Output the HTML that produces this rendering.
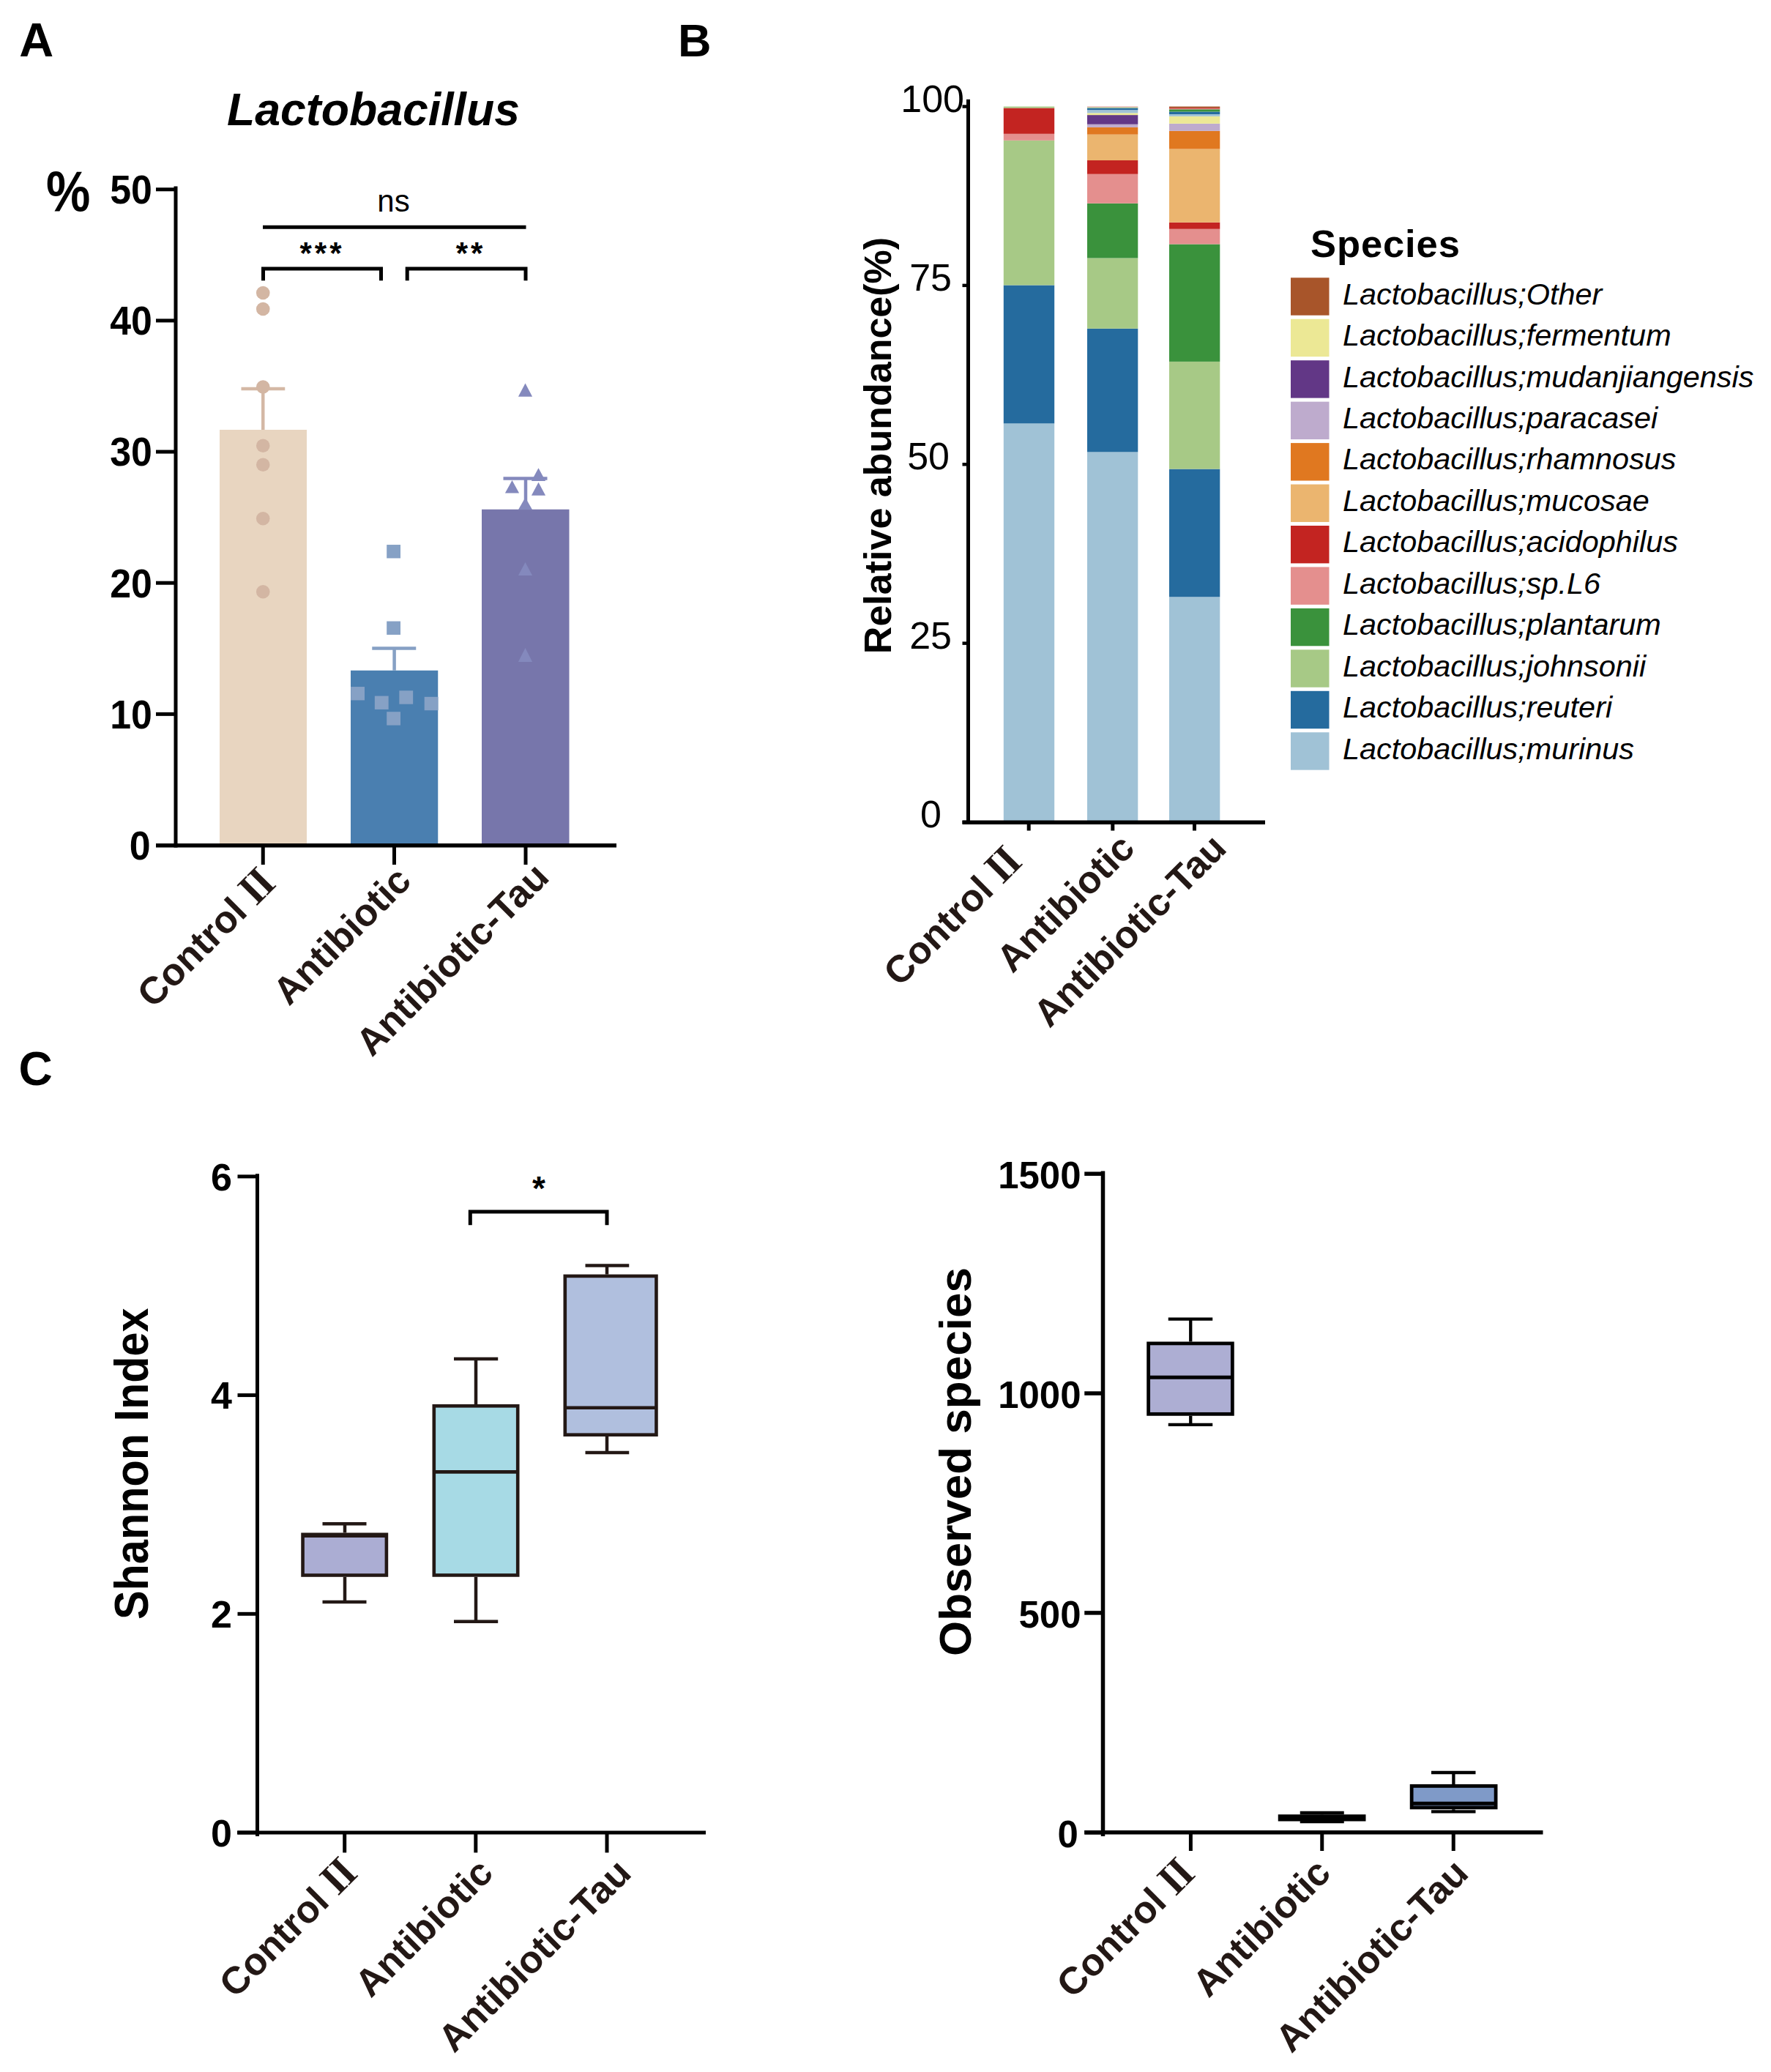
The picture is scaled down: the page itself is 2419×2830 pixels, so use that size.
<!DOCTYPE html>
<html><head><meta charset="utf-8"><title>Lactobacillus figure</title>
<style>html,body{margin:0;padding:0;background:#fff;} svg{display:block;}</style>
</head><body>
<svg width="2419" height="2830" viewBox="0 0 2419 2830" font-family='"Liberation Sans", Arial, sans-serif'>
<rect x="0" y="0" width="2419" height="2830" fill="#fff"/>
<text x="26.3" y="76.8" font-size="65" font-weight="bold" font-style="normal" text-anchor="start" fill="#000" >A</text>
<text x="926" y="77" font-size="63" font-weight="bold" font-style="normal" text-anchor="start" fill="#000" >B</text>
<text x="25.5" y="1481.5" font-size="64" font-weight="bold" font-style="normal" text-anchor="start" fill="#000" >C</text>
<text x="510" y="170.75" font-size="62.6" font-weight="bold" font-style="italic" text-anchor="middle" fill="#000" >Lactobacillus</text>
<text transform="translate(93.2,288.4) scale(0.87,1)" font-size="78" font-weight="bold" text-anchor="middle">%</text>
<rect x="300" y="587" width="119" height="567.5" fill="#e8d5c0"/>
<rect x="479" y="915.75" width="119.25" height="238.75" fill="#4a7fb0"/>
<rect x="658" y="695.75" width="119.5" height="458.75" fill="#7776ab"/>
<line x1="359.25" y1="587" x2="359.25" y2="531" stroke="#d4b8a5" stroke-width="4.5" stroke-linecap="butt"/>
<line x1="329.5" y1="531" x2="389.25" y2="531" stroke="#d4b8a5" stroke-width="4.5" stroke-linecap="butt"/>
<line x1="538.6" y1="915.75" x2="538.6" y2="885.6" stroke="#86a0c4" stroke-width="4.5" stroke-linecap="butt"/>
<line x1="508.25" y1="885.6" x2="568.25" y2="885.6" stroke="#86a0c4" stroke-width="4.5" stroke-linecap="butt"/>
<line x1="718" y1="695.75" x2="718" y2="653.5" stroke="#8489bd" stroke-width="4.5" stroke-linecap="butt"/>
<line x1="687.5" y1="653.5" x2="747.5" y2="653.5" stroke="#8489bd" stroke-width="4.5" stroke-linecap="butt"/>
<circle cx="359.25" cy="400" r="9.3" fill="#d3b6a3"/>
<circle cx="359.25" cy="422" r="9.3" fill="#d3b6a3"/>
<circle cx="359.25" cy="528.5" r="9.3" fill="#d3b6a3"/>
<circle cx="359.25" cy="608.75" r="9.3" fill="#d3b6a3"/>
<circle cx="359.25" cy="634.75" r="9.3" fill="#d3b6a3"/>
<circle cx="359.25" cy="708.25" r="9.3" fill="#d3b6a3"/>
<circle cx="359.25" cy="808.25" r="9.3" fill="#d3b6a3"/>
<rect x="528.2" y="744.05" width="18.8" height="18.4" fill="#86a1c5"/>
<rect x="528.2" y="848.55" width="18.8" height="18.4" fill="#86a1c5"/>
<rect x="479.20000000000005" y="938.05" width="18.8" height="18.4" fill="#86a1c5"/>
<rect x="511.85" y="950.55" width="18.8" height="18.4" fill="#86a1c5"/>
<rect x="545.35" y="943.3" width="18.8" height="18.4" fill="#86a1c5"/>
<rect x="579.7" y="951.8" width="18.8" height="18.4" fill="#86a1c5"/>
<rect x="528.2" y="972.1999999999999" width="18.8" height="18.4" fill="#86a1c5"/>
<polygon points="717.5,523.5 727.1,541.75 707.9,541.75" fill="#8489bd"/>
<polygon points="735.5,639.25 745.1,657 725.9,657" fill="#8489bd"/>
<polygon points="699.5,656 709.1,673.5 689.9,673.5" fill="#8489bd"/>
<polygon points="735.5,658.75 745.1,676.75 725.9,676.75" fill="#8489bd"/>
<polygon points="717.5,679.5 727.1,696.25 707.9,696.25" fill="#8489bd"/>
<polygon points="717.5,768 727.1,786.1 707.9,786.1" fill="#8489bd"/>
<polygon points="717.5,885 727.1,903.9 707.9,903.9" fill="#8489bd"/>
<line x1="240" y1="254.5" x2="240" y2="1157.5" stroke="#000" stroke-width="5" stroke-linecap="butt"/>
<line x1="213" y1="1154.5" x2="240" y2="1154.5" stroke="#000" stroke-width="5" stroke-linecap="butt"/>
<text transform="translate(205.6,1173.8) scale(0.96,1.02)" font-size="54" font-weight="bold" text-anchor="end">0</text>
<line x1="213" y1="975.35" x2="240" y2="975.35" stroke="#000" stroke-width="5" stroke-linecap="butt"/>
<text transform="translate(207.9,994.65) scale(0.96,1.02)" font-size="54" font-weight="bold" text-anchor="end">10</text>
<line x1="213" y1="796.2" x2="240" y2="796.2" stroke="#000" stroke-width="5" stroke-linecap="butt"/>
<text transform="translate(207.9,815.5) scale(0.96,1.02)" font-size="54" font-weight="bold" text-anchor="end">20</text>
<line x1="213" y1="617.0500000000001" x2="240" y2="617.0500000000001" stroke="#000" stroke-width="5" stroke-linecap="butt"/>
<text transform="translate(207.9,636.35) scale(0.96,1.02)" font-size="54" font-weight="bold" text-anchor="end">30</text>
<line x1="213" y1="437.9000000000001" x2="240" y2="437.9000000000001" stroke="#000" stroke-width="5" stroke-linecap="butt"/>
<text transform="translate(207.9,457.2000000000001) scale(0.96,1.02)" font-size="54" font-weight="bold" text-anchor="end">40</text>
<line x1="213" y1="258.75" x2="240" y2="258.75" stroke="#000" stroke-width="5" stroke-linecap="butt"/>
<text transform="translate(207.9,278.05) scale(0.96,1.02)" font-size="54" font-weight="bold" text-anchor="end">50</text>
<line x1="213" y1="1154.8" x2="842" y2="1154.8" stroke="#000" stroke-width="5.5" stroke-linecap="butt"/>
<line x1="359.25" y1="1154.8" x2="359.25" y2="1181" stroke="#000" stroke-width="5" stroke-linecap="butt"/>
<line x1="538.5" y1="1154.8" x2="538.5" y2="1181" stroke="#000" stroke-width="5" stroke-linecap="butt"/>
<line x1="718" y1="1154.8" x2="718" y2="1181" stroke="#000" stroke-width="5" stroke-linecap="butt"/>
<line x1="359" y1="310.3" x2="718.5" y2="310.3" stroke="#000" stroke-width="5" stroke-linecap="butt"/>
<path d="M359.5,383.3 V367 H520.5 V383.3" fill="none" stroke="#000" stroke-width="5"/>
<path d="M556.2,383.3 V367 H718 V383.3" fill="none" stroke="#000" stroke-width="5"/>
<text x="537.5" y="289" font-size="42" font-weight="normal" font-style="normal" text-anchor="middle" fill="#000" >ns</text>
<text x="440" y="359.5" font-size="42" font-weight="bold" font-style="normal" text-anchor="middle" fill="#000" letter-spacing="4">***</text>
<text x="643" y="359.5" font-size="42" font-weight="bold" font-style="normal" text-anchor="middle" fill="#000" letter-spacing="4">**</text>
<text transform="translate(382.7,1205.3) rotate(-45)" x="0" y="0" font-size="52" font-weight="bold" text-anchor="end" fill="#231815">Control <tspan font-family="&quot;Liberation Serif&quot;, &quot;Noto Serif CJK SC&quot;, serif" font-weight="900" dx="-6">Ⅱ</tspan></text>
<text transform="translate(564.2,1205.8) rotate(-45)" x="0" y="0" font-size="52" font-weight="bold" text-anchor="end" fill="#231815">Antibiotic</text>
<text transform="translate(752.4,1200.6) rotate(-45)" x="0" y="0" font-size="52" font-weight="bold" text-anchor="end" fill="#231815">Antibiotic-Tau</text>
<line x1="1322.5" y1="135.75" x2="1322.5" y2="1126" stroke="#000" stroke-width="5" stroke-linecap="butt"/>
<line x1="1314.5" y1="1123.0" x2="1322.5" y2="1123.0" stroke="#000" stroke-width="4.5" stroke-linecap="butt"/>
<text x="1286" y="1130.0" font-size="52" font-weight="normal" font-style="normal" text-anchor="end" fill="#000" >0</text>
<line x1="1314.5" y1="878.625" x2="1322.5" y2="878.625" stroke="#000" stroke-width="4.5" stroke-linecap="butt"/>
<text x="1300" y="885.625" font-size="52" font-weight="normal" font-style="normal" text-anchor="end" fill="#000" >25</text>
<line x1="1314.5" y1="634.25" x2="1322.5" y2="634.25" stroke="#000" stroke-width="4.5" stroke-linecap="butt"/>
<text x="1297" y="641.25" font-size="52" font-weight="normal" font-style="normal" text-anchor="end" fill="#000" >50</text>
<line x1="1314.5" y1="389.875" x2="1322.5" y2="389.875" stroke="#000" stroke-width="4.5" stroke-linecap="butt"/>
<text x="1300" y="396.875" font-size="52" font-weight="normal" font-style="normal" text-anchor="end" fill="#000" >75</text>
<line x1="1314.5" y1="145.5" x2="1322.5" y2="145.5" stroke="#000" stroke-width="4.5" stroke-linecap="butt"/>
<text x="1317" y="152.5" font-size="52" font-weight="normal" font-style="normal" text-anchor="end" fill="#000" >100</text>
<text transform="translate(1217.3,608.5) rotate(-90)" font-size="52" font-weight="bold" text-anchor="middle" fill="#000">Relative abundance(%)</text>
<rect x="1370.8" y="578.4" width="69.40000000000009" height="544.6" fill="#a0c2d6"/>
<rect x="1370.8" y="389.5" width="69.40000000000009" height="188.89999999999998" fill="#256b9e"/>
<rect x="1370.8" y="191.8" width="69.40000000000009" height="197.7" fill="#a7c986"/>
<rect x="1370.8" y="182.8" width="69.40000000000009" height="9.0" fill="#e48f8e"/>
<rect x="1370.8" y="147.5" width="69.40000000000009" height="35.30000000000001" fill="#c32421"/>
<rect x="1370.8" y="145.5" width="69.40000000000009" height="2.0" fill="#a7c986"/>
<rect x="1485" y="617.4" width="69.29999999999995" height="505.6" fill="#a0c2d6"/>
<rect x="1485" y="448.8" width="69.29999999999995" height="168.59999999999997" fill="#256b9e"/>
<rect x="1485" y="352.5" width="69.29999999999995" height="96.30000000000001" fill="#a7c986"/>
<rect x="1485" y="277.75" width="69.29999999999995" height="74.75" fill="#3a923c"/>
<rect x="1485" y="237.75" width="69.29999999999995" height="40.0" fill="#e48f8e"/>
<rect x="1485" y="219" width="69.29999999999995" height="18.75" fill="#c32421"/>
<rect x="1485" y="183.7" width="69.29999999999995" height="35.30000000000001" fill="#ebb56f"/>
<rect x="1485" y="173.9" width="69.29999999999995" height="9.799999999999983" fill="#e07820"/>
<rect x="1485" y="169.75" width="69.29999999999995" height="4.150000000000006" fill="#beabcd"/>
<rect x="1485" y="157.1" width="69.29999999999995" height="12.650000000000006" fill="#623786"/>
<rect x="1485" y="154.4" width="69.29999999999995" height="2.6999999999999886" fill="#ece895"/>
<rect x="1485" y="150.2" width="69.29999999999995" height="4.200000000000017" fill="#a0c2d6"/>
<rect x="1485" y="147.5" width="69.29999999999995" height="2.6999999999999886" fill="#256b9e"/>
<rect x="1485" y="146.3" width="69.29999999999995" height="1.1999999999999886" fill="#a7c986"/>
<rect x="1485" y="145.5" width="69.29999999999995" height="0.8000000000000114" fill="#e48f8e"/>
<rect x="1597" y="815.3" width="69.29999999999995" height="307.70000000000005" fill="#a0c2d6"/>
<rect x="1597" y="640.6" width="69.29999999999995" height="174.69999999999993" fill="#256b9e"/>
<rect x="1597" y="493.9" width="69.29999999999995" height="146.70000000000005" fill="#a7c986"/>
<rect x="1597" y="333.5" width="69.29999999999995" height="160.39999999999998" fill="#3a923c"/>
<rect x="1597" y="312.75" width="69.29999999999995" height="20.75" fill="#e48f8e"/>
<rect x="1597" y="303.75" width="69.29999999999995" height="9.0" fill="#c32421"/>
<rect x="1597" y="203.5" width="69.29999999999995" height="100.25" fill="#ebb56f"/>
<rect x="1597" y="178.8" width="69.29999999999995" height="24.69999999999999" fill="#e07820"/>
<rect x="1597" y="168.85" width="69.29999999999995" height="9.950000000000017" fill="#beabcd"/>
<rect x="1597" y="158.9" width="69.29999999999995" height="9.949999999999989" fill="#ece895"/>
<rect x="1597" y="156" width="69.29999999999995" height="2.9000000000000057" fill="#a0c2d6"/>
<rect x="1597" y="152.5" width="69.29999999999995" height="3.5" fill="#256b9e"/>
<rect x="1597" y="149.3" width="69.29999999999995" height="3.1999999999999886" fill="#3a923c"/>
<rect x="1597" y="148.5" width="69.29999999999995" height="0.8000000000000114" fill="#e48f8e"/>
<rect x="1597" y="147.2" width="69.29999999999995" height="1.3000000000000114" fill="#c32421"/>
<rect x="1597" y="145.5" width="69.29999999999995" height="1.6999999999999886" fill="#a8552a"/>
<line x1="1314.5" y1="1123.3" x2="1728" y2="1123.3" stroke="#000" stroke-width="5.5" stroke-linecap="butt"/>
<line x1="1405.2" y1="1123" x2="1405.2" y2="1134.5" stroke="#000" stroke-width="5" stroke-linecap="butt"/>
<line x1="1519.8" y1="1123" x2="1519.8" y2="1134.5" stroke="#000" stroke-width="5" stroke-linecap="butt"/>
<line x1="1631.5" y1="1123" x2="1631.5" y2="1134.5" stroke="#000" stroke-width="5" stroke-linecap="butt"/>
<text x="1790" y="351.3" font-size="52.5" font-weight="bold" font-style="normal" text-anchor="start" fill="#000" letter-spacing="0.9">Species</text>
<rect x="1763" y="379.3" width="52.5" height="51.4" fill="#a8552a"/>
<text x="1834" y="415.6" font-size="41.4" font-weight="normal" font-style="italic" text-anchor="start" fill="#000" >Lactobacillus;Other</text>
<rect x="1763" y="435.75" width="52.5" height="51.4" fill="#ece895"/>
<text x="1834" y="472.05" font-size="41.4" font-weight="normal" font-style="italic" text-anchor="start" fill="#000" >Lactobacillus;fermentum</text>
<rect x="1763" y="492.20000000000005" width="52.5" height="51.4" fill="#623786"/>
<text x="1834" y="528.5" font-size="41.4" font-weight="normal" font-style="italic" text-anchor="start" fill="#000" >Lactobacillus;mudanjiangensis</text>
<rect x="1763" y="548.6500000000001" width="52.5" height="51.4" fill="#beabcd"/>
<text x="1834" y="584.95" font-size="41.4" font-weight="normal" font-style="italic" text-anchor="start" fill="#000" >Lactobacillus;paracasei</text>
<rect x="1763" y="605.1" width="52.5" height="51.4" fill="#e07820"/>
<text x="1834" y="641.4" font-size="41.4" font-weight="normal" font-style="italic" text-anchor="start" fill="#000" >Lactobacillus;rhamnosus</text>
<rect x="1763" y="661.55" width="52.5" height="51.4" fill="#ebb56f"/>
<text x="1834" y="697.8499999999999" font-size="41.4" font-weight="normal" font-style="italic" text-anchor="start" fill="#000" >Lactobacillus;mucosae</text>
<rect x="1763" y="718.0" width="52.5" height="51.4" fill="#c32421"/>
<text x="1834" y="754.3" font-size="41.4" font-weight="normal" font-style="italic" text-anchor="start" fill="#000" >Lactobacillus;acidophilus</text>
<rect x="1763" y="774.45" width="52.5" height="51.4" fill="#e48f8e"/>
<text x="1834" y="810.75" font-size="41.4" font-weight="normal" font-style="italic" text-anchor="start" fill="#000" >Lactobacillus;sp.L6</text>
<rect x="1763" y="830.9000000000001" width="52.5" height="51.4" fill="#3a923c"/>
<text x="1834" y="867.2" font-size="41.4" font-weight="normal" font-style="italic" text-anchor="start" fill="#000" >Lactobacillus;plantarum</text>
<rect x="1763" y="887.35" width="52.5" height="51.4" fill="#a7c986"/>
<text x="1834" y="923.65" font-size="41.4" font-weight="normal" font-style="italic" text-anchor="start" fill="#000" >Lactobacillus;johnsonii</text>
<rect x="1763" y="943.8" width="52.5" height="51.4" fill="#256b9e"/>
<text x="1834" y="980.0999999999999" font-size="41.4" font-weight="normal" font-style="italic" text-anchor="start" fill="#000" >Lactobacillus;reuteri</text>
<rect x="1763" y="1000.25" width="52.5" height="51.4" fill="#a0c2d6"/>
<text x="1834" y="1036.55" font-size="41.4" font-weight="normal" font-style="italic" text-anchor="start" fill="#000" >Lactobacillus;murinus</text>
<text transform="translate(1402.2,1175.8) rotate(-45)" x="0" y="0" font-size="52" font-weight="bold" text-anchor="end" fill="#231815">Control <tspan font-family="&quot;Liberation Serif&quot;, &quot;Noto Serif CJK SC&quot;, serif" font-weight="900" dx="-6">Ⅱ</tspan></text>
<text transform="translate(1552.5,1161.2) rotate(-45)" x="0" y="0" font-size="52" font-weight="bold" text-anchor="end" fill="#231815">Antibiotic</text>
<text transform="translate(1677.8,1161.2) rotate(-45)" x="0" y="0" font-size="52" font-weight="bold" text-anchor="end" fill="#231815">Antibiotic-Tau</text>
<line x1="351.5" y1="1603.3" x2="351.5" y2="2508" stroke="#000" stroke-width="5" stroke-linecap="butt"/>
<line x1="324.5" y1="2503.0" x2="351.5" y2="2503.0" stroke="#000" stroke-width="5" stroke-linecap="butt"/>
<text x="317" y="2521.7" font-size="52" font-weight="bold" font-style="normal" text-anchor="end" fill="#000" >0</text>
<line x1="324.5" y1="2204.3" x2="351.5" y2="2204.3" stroke="#000" stroke-width="5" stroke-linecap="butt"/>
<text x="317" y="2223.0" font-size="52" font-weight="bold" font-style="normal" text-anchor="end" fill="#000" >2</text>
<line x1="324.5" y1="1905.6" x2="351.5" y2="1905.6" stroke="#000" stroke-width="5" stroke-linecap="butt"/>
<text x="317" y="1924.3" font-size="52" font-weight="bold" font-style="normal" text-anchor="end" fill="#000" >4</text>
<line x1="324.5" y1="1606.9" x2="351.5" y2="1606.9" stroke="#000" stroke-width="5" stroke-linecap="butt"/>
<text x="317" y="1625.6000000000001" font-size="52" font-weight="bold" font-style="normal" text-anchor="end" fill="#000" >6</text>
<line x1="324" y1="2503" x2="964" y2="2503" stroke="#000" stroke-width="5" stroke-linecap="butt"/>
<line x1="470.7" y1="2503" x2="470.7" y2="2530.4" stroke="#000" stroke-width="5" stroke-linecap="butt"/>
<line x1="649.8" y1="2503" x2="649.8" y2="2530.4" stroke="#000" stroke-width="5" stroke-linecap="butt"/>
<line x1="829" y1="2503" x2="829" y2="2530.4" stroke="#000" stroke-width="5" stroke-linecap="butt"/>
<text transform="translate(202.3,1999.2) rotate(-90) scale(0.911,1)" font-size="65.2" font-weight="bold" text-anchor="middle" fill="#000">Shannon Index</text>
<line x1="471" y1="2081.25" x2="471" y2="2093.5" stroke="#231815" stroke-width="4.5" stroke-linecap="butt"/>
<line x1="471" y1="2153.8" x2="471" y2="2188" stroke="#231815" stroke-width="4.5" stroke-linecap="butt"/>
<line x1="440.5" y1="2081.25" x2="500.5" y2="2081.25" stroke="#231815" stroke-width="4.5" stroke-linecap="butt"/>
<line x1="440.5" y1="2188" x2="500.5" y2="2188" stroke="#231815" stroke-width="4.5" stroke-linecap="butt"/>
<rect x="413.55" y="2095.8" width="114.35000000000005" height="55.70000000000018" fill="#abadd3" stroke="#231815" stroke-width="4.6"/>
<line x1="413.55" y1="2097.6" x2="527.9000000000001" y2="2097.6" stroke="#231815" stroke-width="4.6" stroke-linecap="butt"/>
<line x1="650" y1="1855.9" x2="650" y2="1918" stroke="#231815" stroke-width="4.5" stroke-linecap="butt"/>
<line x1="650" y1="2153.75" x2="650" y2="2214.7" stroke="#231815" stroke-width="4.5" stroke-linecap="butt"/>
<line x1="620" y1="1855.9" x2="680.2" y2="1855.9" stroke="#231815" stroke-width="4.5" stroke-linecap="butt"/>
<line x1="620" y1="2214.7" x2="680.2" y2="2214.7" stroke="#231815" stroke-width="4.5" stroke-linecap="butt"/>
<rect x="592.8" y="1920.3" width="114.4" height="231.15" fill="#a7dae5" stroke="#231815" stroke-width="4.6"/>
<line x1="592.8" y1="2010.4" x2="707.2" y2="2010.4" stroke="#231815" stroke-width="4.6" stroke-linecap="butt"/>
<line x1="829" y1="1728.4" x2="829" y2="1740.6" stroke="#231815" stroke-width="4.5" stroke-linecap="butt"/>
<line x1="829" y1="1962" x2="829" y2="1984" stroke="#231815" stroke-width="4.5" stroke-linecap="butt"/>
<line x1="799.5" y1="1728.4" x2="859.25" y2="1728.4" stroke="#231815" stroke-width="4.5" stroke-linecap="butt"/>
<line x1="799.5" y1="1984" x2="859.25" y2="1984" stroke="#231815" stroke-width="4.5" stroke-linecap="butt"/>
<rect x="771.8" y="1742.8999999999999" width="124.65" height="216.8000000000001" fill="#b0bfde" stroke="#231815" stroke-width="4.6"/>
<line x1="771.8" y1="1922.75" x2="896.45" y2="1922.75" stroke="#231815" stroke-width="4.6" stroke-linecap="butt"/>
<path d="M642.3,1673.3 V1655 H829 V1673.3" fill="none" stroke="#000" stroke-width="5"/>
<text x="736" y="1639" font-size="46" font-weight="bold" font-style="normal" text-anchor="middle" fill="#000" >*</text>
<text transform="translate(494.6,2557.2) rotate(-45)" x="0" y="0" font-size="52" font-weight="bold" text-anchor="end" fill="#231815">Control <tspan font-family="&quot;Liberation Serif&quot;, &quot;Noto Serif CJK SC&quot;, serif" font-weight="900" dx="-6">Ⅱ</tspan></text>
<text transform="translate(676.1,2560.7) rotate(-45)" x="0" y="0" font-size="52" font-weight="bold" text-anchor="end" fill="#231815">Antibiotic</text>
<text transform="translate(864.6,2561.0) rotate(-45)" x="0" y="0" font-size="52" font-weight="bold" text-anchor="end" fill="#231815">Antibiotic-Tau</text>
<line x1="1506.5" y1="1599.5" x2="1506.5" y2="2508" stroke="#000" stroke-width="5.5" stroke-linecap="butt"/>
<line x1="1481.25" y1="2502.75" x2="1506.5" y2="2502.75" stroke="#000" stroke-width="5.5" stroke-linecap="butt"/>
<text transform="translate(1472.8,2522.75) scale(0.98,1)" font-size="52" font-weight="bold" text-anchor="end">0</text>
<line x1="1481.25" y1="2202.9" x2="1506.5" y2="2202.9" stroke="#000" stroke-width="5.5" stroke-linecap="butt"/>
<text transform="translate(1476.5,2222.9) scale(0.98,1)" font-size="52" font-weight="bold" text-anchor="end">500</text>
<line x1="1481.25" y1="1903.05" x2="1506.5" y2="1903.05" stroke="#000" stroke-width="5.5" stroke-linecap="butt"/>
<text transform="translate(1476.5,1923.05) scale(0.98,1)" font-size="52" font-weight="bold" text-anchor="end">1000</text>
<line x1="1481.25" y1="1603.1999999999998" x2="1506.5" y2="1603.1999999999998" stroke="#000" stroke-width="5.5" stroke-linecap="butt"/>
<text transform="translate(1476.5,1623.1999999999998) scale(0.98,1)" font-size="52" font-weight="bold" text-anchor="end">1500</text>
<line x1="1481.4" y1="2502.75" x2="2107.5" y2="2502.75" stroke="#000" stroke-width="5.5" stroke-linecap="butt"/>
<line x1="1626.4" y1="2502.75" x2="1626.4" y2="2528" stroke="#000" stroke-width="5" stroke-linecap="butt"/>
<line x1="1805.75" y1="2502.75" x2="1805.75" y2="2528" stroke="#000" stroke-width="5" stroke-linecap="butt"/>
<line x1="1985.25" y1="2502.75" x2="1985.25" y2="2528" stroke="#000" stroke-width="5" stroke-linecap="butt"/>
<text transform="translate(1326.1,1996.5) rotate(-90)" font-size="62" font-weight="bold" text-anchor="middle" fill="#000">Observed species</text>
<line x1="1626.25" y1="1801.6" x2="1626.25" y2="1832.5" stroke="#000" stroke-width="4.3" stroke-linecap="butt"/>
<line x1="1626.25" y1="1933.75" x2="1626.25" y2="1945.9" stroke="#000" stroke-width="4.3" stroke-linecap="butt"/>
<line x1="1595.75" y1="1801.6" x2="1656.25" y2="1801.6" stroke="#000" stroke-width="4.3" stroke-linecap="butt"/>
<line x1="1595.75" y1="1945.9" x2="1656.25" y2="1945.9" stroke="#000" stroke-width="4.3" stroke-linecap="butt"/>
<rect x="1568.65" y="1834.9" width="114.7" height="96.45" fill="#adaed3" stroke="#000" stroke-width="4.8"/>
<line x1="1568.65" y1="1881.25" x2="1683.35" y2="1881.25" stroke="#000" stroke-width="4.8" stroke-linecap="butt"/>
<line x1="1805.75" y1="2476" x2="1805.75" y2="2478.25" stroke="#000" stroke-width="4.3" stroke-linecap="butt"/>
<line x1="1805.75" y1="2487.5" x2="1805.75" y2="2488" stroke="#000" stroke-width="4.3" stroke-linecap="butt"/>
<line x1="1775.75" y1="2476" x2="1835.75" y2="2476" stroke="#000" stroke-width="4.3" stroke-linecap="butt"/>
<line x1="1775.75" y1="2488" x2="1835.75" y2="2488" stroke="#000" stroke-width="4.3" stroke-linecap="butt"/>
<rect x="1748.15" y="2480.65" width="114.95" height="4.45" fill="#000" stroke="#000" stroke-width="4.8"/>
<line x1="1748.15" y1="2483" x2="1863.1" y2="2483" stroke="#000" stroke-width="4.8" stroke-linecap="butt"/>
<line x1="1985.4" y1="2421" x2="1985.4" y2="2437" stroke="#000" stroke-width="4.3" stroke-linecap="butt"/>
<line x1="1985.4" y1="2471.25" x2="1985.4" y2="2474.4" stroke="#000" stroke-width="4.3" stroke-linecap="butt"/>
<line x1="1955" y1="2421" x2="2015.5" y2="2421" stroke="#000" stroke-width="4.3" stroke-linecap="butt"/>
<line x1="1955" y1="2474.4" x2="2015.5" y2="2474.4" stroke="#000" stroke-width="4.3" stroke-linecap="butt"/>
<rect x="1928.15" y="2439.4" width="114.95" height="29.45" fill="#7f9ac8" stroke="#000" stroke-width="4.8"/>
<line x1="1928.15" y1="2463.25" x2="2043.1" y2="2463.25" stroke="#000" stroke-width="4.8" stroke-linecap="butt"/>
<text transform="translate(1638.5,2557.8) rotate(-45)" x="0" y="0" font-size="52" font-weight="bold" text-anchor="end" fill="#231815">Control <tspan font-family="&quot;Liberation Serif&quot;, &quot;Noto Serif CJK SC&quot;, serif" font-weight="900" dx="-6">Ⅱ</tspan></text>
<text transform="translate(1820.3,2560.7) rotate(-45)" x="0" y="0" font-size="52" font-weight="bold" text-anchor="end" fill="#231815">Antibiotic</text>
<text transform="translate(2008.3,2561.3) rotate(-45)" x="0" y="0" font-size="52" font-weight="bold" text-anchor="end" fill="#231815">Antibiotic-Tau</text>
</svg>
</body></html>
